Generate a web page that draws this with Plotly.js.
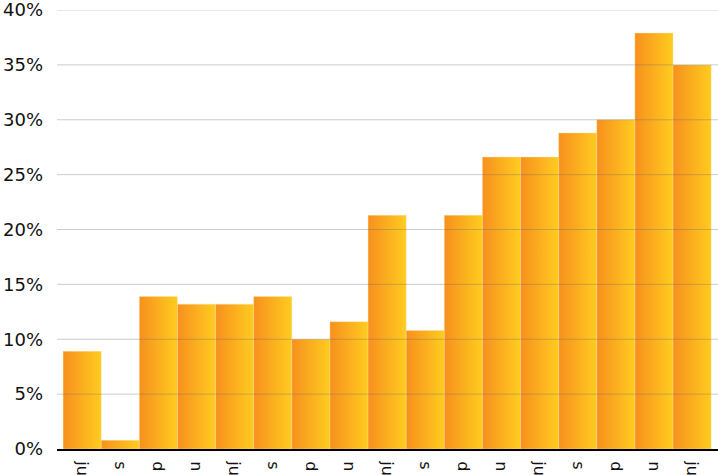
<!DOCTYPE html>
<html>
<head>
<meta charset="utf-8">
<script src="https://cdn.plot.ly/plotly-3.0.1.min.js"></script>
<style>html,body{margin:0;padding:0;background:#fff;}#chart{width:718px;height:475px;}</style>
</head>
<body>
<div id="chart"></div>
<script>
const categories = ["ju","s","d","n","ju","s","d","n","ju","s","d","n","ju","s","d","n","ju"];
const values = [8.9, 0.8, 13.9, 13.2, 13.2, 13.9, 10.0, 11.6, 21.3, 10.8, 21.3, 26.6, 26.6, 28.8, 30.0, 37.9, 35.0];
const yTickValues = [0, 5, 10, 15, 20, 25, 30, 35, 40];
const yTickLabels = ["0%","5%","10%","15%","20%","25%","30%","35%","40%"];

const xIdx = categories.map((c, i) => i);

const trace = {
  type: 'bar',
  x: xIdx,
  y: values,
  marker: {color: '#F9A51F', line: {color: 'rgba(255,230,170,0.6)', width: 0.6}},
  hoverinfo: 'none'
};

const gridShapes = yTickValues.filter(v => v > 0).map(v => ({
  type: 'line', xref: 'paper', yref: 'y', x0: 0, x1: 1, y0: v, y1: v,
  line: {color: 'rgba(110,110,110,0.35)', width: 1}, layer: 'above'
}));

const layout = {
  width: 718, height: 475,
  margin: {l: 57, r: 0, t: 10, b: 26, pad: 0},
  paper_bgcolor: '#fff', plot_bgcolor: '#fff',
  bargap: 0,
  showlegend: false,
  font: {family: 'DejaVu Sans, Verdana, sans-serif', color: '#111', size: 18},
  xaxis: {
    range: [-0.66, 16.68],
    tickmode: 'array', tickvals: xIdx, ticktext: categories,
    tickangle: 90, ticks: '', showgrid: false, zeroline: false,
    showline: true, linecolor: '#000', linewidth: 2,
    automargin: false, ticklabelstandoff: 7, ticklabeloverflow: 'allow',
    tickfont: {size: 16, color: '#111'}
  },
  yaxis: {
    range: [0, 40], tickmode: 'array', tickvals: yTickValues, ticktext: yTickLabels,
    showgrid: false, zeroline: false, showline: false, ticks: '',
    automargin: false, ticklabelstandoff: 13, ticklabeloverflow: 'allow',
    tickfont: {size: 18, color: '#111'}
  },
  shapes: gridShapes
};

Plotly.newPlot('chart', [trace], layout, {staticPlot: true, displayModeBar: false}).then(gd => {
  const svg = gd.querySelector('svg.main-svg');
  const defs = svg.querySelector('defs');
  const ns = 'http://www.w3.org/2000/svg';
  const lg = document.createElementNS(ns, 'linearGradient');
  lg.setAttribute('id', 'barGrad');
  lg.setAttribute('x1', '0'); lg.setAttribute('y1', '0');
  lg.setAttribute('x2', '1'); lg.setAttribute('y2', '0');
  [['0', '#F7901E'], ['1', '#FFCC1F']].forEach(([o, c]) => {
    const s = document.createElementNS(ns, 'stop');
    s.setAttribute('offset', o); s.setAttribute('stop-color', c);
    lg.appendChild(s);
  });
  defs.appendChild(lg);
  gd.querySelectorAll('.barlayer .point path').forEach(p => {
    p.style.fill = 'url(#barGrad)';
  });
});
</script>
</body>
</html>
